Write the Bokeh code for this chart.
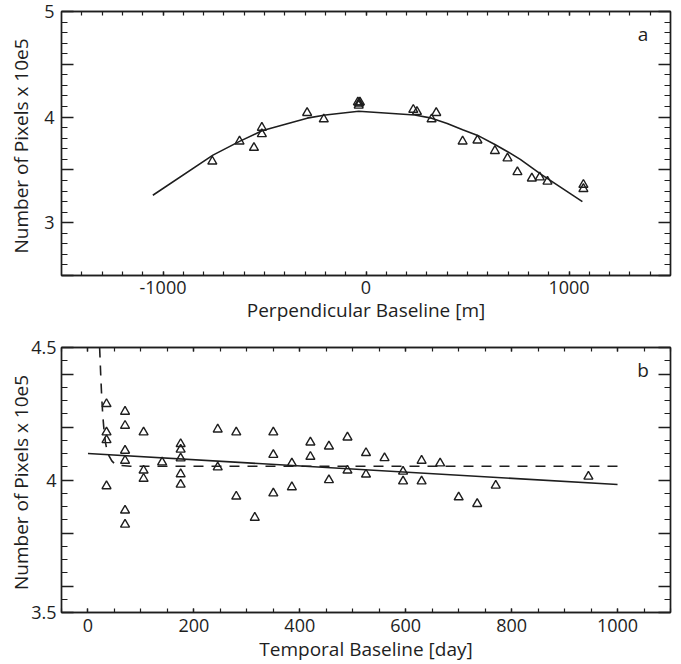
from bokeh.plotting import figure
from bokeh.layouts import column
from bokeh.models import LinearAxis, FixedTicker, Label, Range1d
from bokeh.embed import file_html
from bokeh.resources import INLINE

# ---------------- data: panel a ----------------
perp_baseline = [-757, -623, -552, -513, -513, -290, -208, -40, -34, -30, -36,
                 233, 251, 323, 346, 476, 549, 635, 697, 746, 817, 856, 894, 1071, 1071]
pixels_a = [3.58, 3.77, 3.71, 3.90, 3.84, 4.04, 3.98, 4.14, 4.13, 4.14, 4.11,
            4.07, 4.05, 3.98, 4.04, 3.77, 3.78, 3.68, 3.61, 3.48, 3.42, 3.43, 3.39, 3.36, 3.32]
fit_a_baseline = [-1050, -754, -623, -513, -290, -200, -36, 240, 323, 400, 476, 557, 635, 700, 760, 861, 1066]
fit_a_pixels = [3.26, 3.64, 3.77, 3.87, 3.99, 4.02, 4.055, 4.02, 3.99, 3.94, 3.88, 3.82, 3.74, 3.67, 3.60, 3.46, 3.20]

# ---------------- data: panel b ----------------
temporal_baseline = [35, 35, 35, 35, 70, 70, 70, 70, 70, 70, 105, 105, 105, 140,
                     175, 175, 175, 175, 175, 245, 245, 280, 280, 315, 350, 350, 350,
                     385, 385, 420, 420, 455, 455, 490, 490, 525, 525, 560, 595, 595,
                     630, 630, 665, 700, 735, 770, 945]
pixels_b = [4.287, 4.18, 4.151, 3.977, 4.258, 4.205, 4.111, 4.073, 3.885, 3.832,
            4.18, 4.036, 4.005, 4.067, 4.136, 4.115, 4.082, 4.022, 3.983, 4.191, 4.048,
            4.18, 3.938, 3.858, 4.18, 4.095, 3.95, 4.063, 3.973, 4.142, 4.088, 4.127, 4.0,
            4.161, 4.036, 4.102, 4.021, 4.083, 4.032, 3.995, 4.073, 3.995, 4.063, 3.935,
            3.91, 3.979, 4.013]
linfit_t = [0, 1000]
linfit_n = [4.100, 3.983]
expfit_t = [22, 24, 26, 28, 30, 33, 36, 40, 45, 50, 60, 80, 1000]
expfit_n = [4.50, 4.40, 4.31, 4.243, 4.194, 4.142, 4.11, 4.09, 4.072, 4.062, 4.055, 4.052, 4.052]

# ---------------- ticks ----------------
a_xticks = [-1000, 0, 1000]
a_xlabels = {-1000: "-1000", 0: "0", 1000: "1000"}
a_xminor = list(range(-1400, 1401, 100))
a_yticks = [2.5, 3, 3.5, 4, 4.5, 5]
a_ylabels = {2.5: "", 3: "3", 3.5: "", 4: "4", 4.5: "", 5: "5"}
a_yminor = [round(2.5 + 0.1 * i, 2) for i in range(26)]

b_xticks = [0, 200, 400, 600, 800, 1000]
b_xlabels = {0: "0", 200: "200", 400: "400", 600: "600", 800: "800", 1000: "1000"}
b_xminor = list(range(-50, 1101, 50))
b_yticks = [3.5, 3.6, 3.8, 4.0, 4.2, 4.4, 4.5]
b_ylabels = {3.5: "3.5", 3.6: "", 3.8: "", 4.0: "4", 4.2: "", 4.4: "", 4.5: "4.5"}
b_yminor = [round(3.5 + 0.05 * i, 2) for i in range(21)]

FONT = "Open Sans"
INK = "#1e1e1e"
YLABEL = "Number of Pixels  x 10e5"


def build(xr, yr, xt, xminor, xlab, yt, yminor, ylab, xtitle, height, borders,
          ylab_standoff, ytick_standoff, xtick_standoff, xlab_standoff):
    p = figure(width=681, height=height, x_range=Range1d(*xr), y_range=Range1d(*yr),
               output_backend="svg", toolbar_location=None)
    p.min_border_left, p.min_border_right, p.min_border_top, p.min_border_bottom = borders
    p.xgrid.visible = False
    p.ygrid.visible = False
    p.outline_line_color = INK
    p.outline_line_width = 1.4
    p.background_fill_color = "white"
    p.border_fill_color = "white"

    xtk = FixedTicker(ticks=xt, minor_ticks=xminor)
    ytk = FixedTicker(ticks=yt, minor_ticks=yminor)

    xa = p.xaxis[0]
    xa.ticker = xtk
    xa.major_label_overrides = xlab
    xa.axis_label = xtitle
    ya = p.yaxis[0]
    ya.ticker = ytk
    ya.major_label_overrides = ylab
    ya.axis_label = YLABEL

    top = LinearAxis(ticker=xtk, major_label_text_color=None, axis_label=None)
    right = LinearAxis(ticker=ytk, major_label_text_color=None, axis_label=None)
    p.add_layout(top, "above")
    p.add_layout(right, "right")

    for ax in (xa, top):
        ax.major_tick_in = 4
        ax.major_tick_out = 0
        ax.minor_tick_in = 4
        ax.minor_tick_out = 0
    for ax in (ya, right):
        ax.major_tick_in = 12
        ax.major_tick_out = 0
        ax.minor_tick_in = 6
        ax.minor_tick_out = 0
    for ax in (xa, ya, top, right):
        ax.axis_line_color = INK
        ax.axis_line_width = 1.4
        ax.major_tick_line_color = INK
        ax.minor_tick_line_color = INK
        ax.major_tick_line_width = 1.4
        ax.minor_tick_line_width = 1.2
        ax.major_label_text_font = FONT
        ax.major_label_text_font_size = "18px"
        ax.axis_label_text_font = FONT
        ax.axis_label_text_font_size = "19px"
        ax.axis_label_text_font_style = "normal"
        ax.axis_label_text_color = INK
        ax.major_label_text_color = INK if ax in (xa, ya) else None
    top.major_label_standoff = 0
    right.major_label_standoff = 0
    xa.major_label_standoff = xtick_standoff
    xa.axis_label_standoff = xlab_standoff
    ya.major_label_standoff = ytick_standoff
    ya.axis_label_standoff = ylab_standoff
    return p


pa = build((-1500, 1500), (2.5, 5), a_xticks, a_xminor, a_xlabels, a_yticks, a_yminor,
           a_ylabels, "Perpendicular Baseline [m]", 327, (60, 11, 11, 52),
           ylab_standoff=7, ytick_standoff=7, xtick_standoff=5, xlab_standoff=0)
pa.line(fit_a_baseline, fit_a_pixels, line_color=INK, line_width=1.6)
pa.scatter(perp_baseline, pixels_a, marker="triangle", size=9, fill_color=None,
           line_color=INK, line_width=1.4)
pa.add_layout(Label(x=1365, y=4.79, text="a", text_font=FONT, text_font_size="19px",
                    text_align="center", text_baseline="middle", text_color=INK))

pb = build((-50, 1100), (3.5, 4.5), b_xticks, b_xminor, b_xlabels, b_yticks, b_yminor,
           b_ylabels, "Temporal Baseline [day]", 337, (61, 10, 20, 51),
           ylab_standoff=-6, ytick_standoff=5, xtick_standoff=6, xlab_standoff=1)
pb.line(expfit_t, expfit_n, line_color=INK, line_width=1.6, line_dash="10 8")
pb.line(linfit_t, linfit_n, line_color=INK, line_width=1.6)
pb.scatter(temporal_baseline, pixels_b, marker="triangle", size=9, fill_color=None,
           line_color=INK, line_width=1.4)
pb.add_layout(Label(x=1048, y=4.414, text="b", text_font=FONT, text_font_size="19px",
                    text_align="center", text_baseline="middle", text_color=INK))

layout = column(pa, pb, spacing=0)
open("out.html", "w").write(file_html(layout, INLINE))
